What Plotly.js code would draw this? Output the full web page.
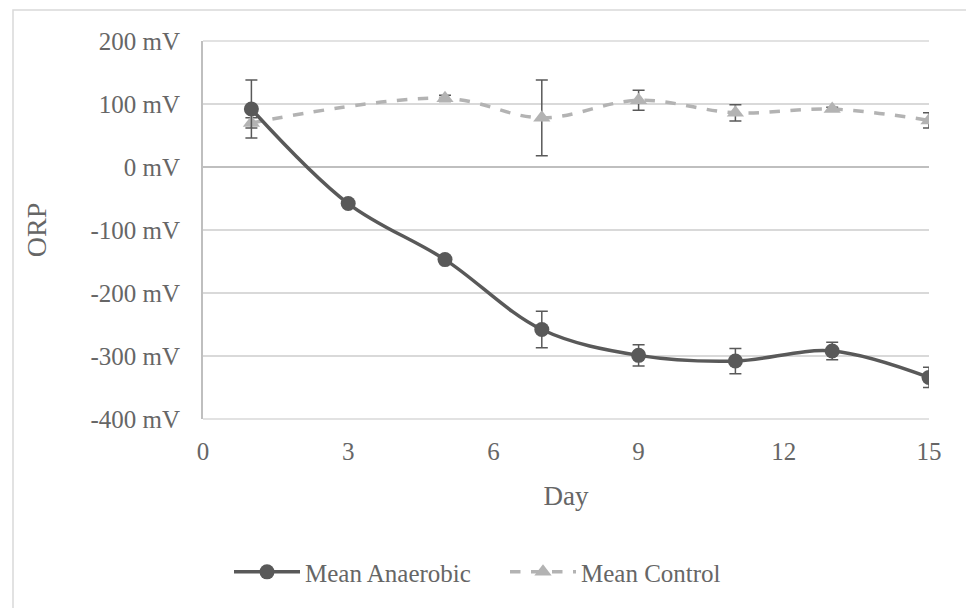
<!DOCTYPE html>
<html>
<head>
<meta charset="utf-8">
<script src="https://cdn.plot.ly/plotly-3.0.1.min.js"></script>
<style>
  html, body { margin: 0; padding: 0; background: #fff; }
  #chart { width: 966px; height: 608px; }
</style>
</head>
<body>
<div id="chart"></div>
<script>
// ---- Data ----
const anaerobicDays = [1, 3, 5, 7, 9, 11, 13, 15];
const anaerobicMean = [92, -58, -147, -258, -299, -308, -292, -334];
const anaerobicErr  = [46, 4, 4, 29, 17, 20, 14, 16];

const controlDays = [1, 5, 7, 9, 11, 13, 15];
const controlMean = [70, 109, 78, 106, 86, 92, 74];
const controlErr  = [8, 5, 60, 16, 13, 3, 12];

const xTickVals = [0, 3, 6, 9, 12, 15];
const yTickVals = [-400, -300, -200, -100, 0, 100, 200];
const yTickText = ['-400 mV', '-300 mV', '-200 mV', '-100 mV', '0 mV', '100 mV', '200 mV'];

const FONT = 'Liberation Serif, Times New Roman, serif';
const TEXT = '#666666';

const traces = [
  {
    x: controlDays, y: controlMean, name: 'Mean Control',
    type: 'scatter', mode: 'lines+markers', legendrank: 2,
    line: { color: '#b3b3b3', width: 3.5, dash: 'dash', shape: 'spline', smoothing: 1 },
    marker: { symbol: 'triangle-up', size: 15, color: '#b3b3b3' },
    error_y: { type: 'data', array: controlErr, visible: true, color: '#595959', thickness: 1.5, width: 6 }
  },
  {
    x: anaerobicDays, y: anaerobicMean, name: 'Mean Anaerobic',
    type: 'scatter', mode: 'lines+markers', legendrank: 1,
    line: { color: '#595959', width: 3.5, shape: 'spline', smoothing: 1 },
    marker: { symbol: 'circle', size: 15, color: '#595959' },
    error_y: { type: 'data', array: anaerobicErr, visible: true, color: '#595959', thickness: 1.5, width: 6 }
  }
];

const gridEdge = (py) => ({
  type: 'line', xref: 'paper', yref: 'paper', layer: 'below',
  x0: 0, x1: 1, y0: py, y1: py,
  line: { color: '#d9d9d9', width: 1.5 }
});

const layout = {
  width: 966, height: 608,
  margin: { l: 203, r: 37, t: 41, b: 189 },
  paper_bgcolor: '#ffffff', plot_bgcolor: '#ffffff',
  font: { family: FONT, color: TEXT, size: 25 },
  showlegend: true,
  legend: {
    orientation: 'h', x: (505 - 203) / 726, xanchor: 'center', y: -0.405, yanchor: 'middle',
    font: { family: FONT, size: 25, color: TEXT }, itemwidth: 66,
    entrywidth: 195, entrywidthmode: 'pixels', tracegroupgap: 0
  },
  xaxis: {
    range: [0, 15], tickvals: xTickVals, ticks: '', showgrid: false,
    zeroline: false, showline: false, ticklabelstandoff: 15,
    tickfont: { family: FONT, size: 25, color: TEXT },
    title: { text: 'Day', font: { family: FONT, size: 27, color: TEXT }, standoff: 22 }
  },
  yaxis: {
    range: [-400, 200], tickvals: yTickVals, ticktext: yTickText, ticks: '',
    showgrid: true, gridcolor: '#d9d9d9', gridwidth: 1.5,
    zeroline: true, zerolinecolor: '#bfbfbf', zerolinewidth: 2.5,
    showline: true, linecolor: '#bfbfbf', linewidth: 2,
    ticklabelstandoff: 16,
    tickfont: { family: FONT, size: 25, color: TEXT },
    title: { text: 'ORP', font: { family: FONT, size: 28, color: TEXT }, standoff: 36 }
  },
  shapes: [
    {
      type: 'rect', xref: 'paper', yref: 'paper', layer: 'below',
      x0: (13 - 203) / 726, x1: (990 - 203) / 726,
      y0: (419 - 640) / 378, y1: (419 - 10) / 378,
      line: { color: '#d9d9d9', width: 1.5 }, fillcolor: 'rgba(0,0,0,0)'
    },
    gridEdge(0),
    gridEdge(1)
  ]
};

Plotly.newPlot('chart', traces, layout, { displayModeBar: false, staticPlot: true });
</script>
</body>
</html>
